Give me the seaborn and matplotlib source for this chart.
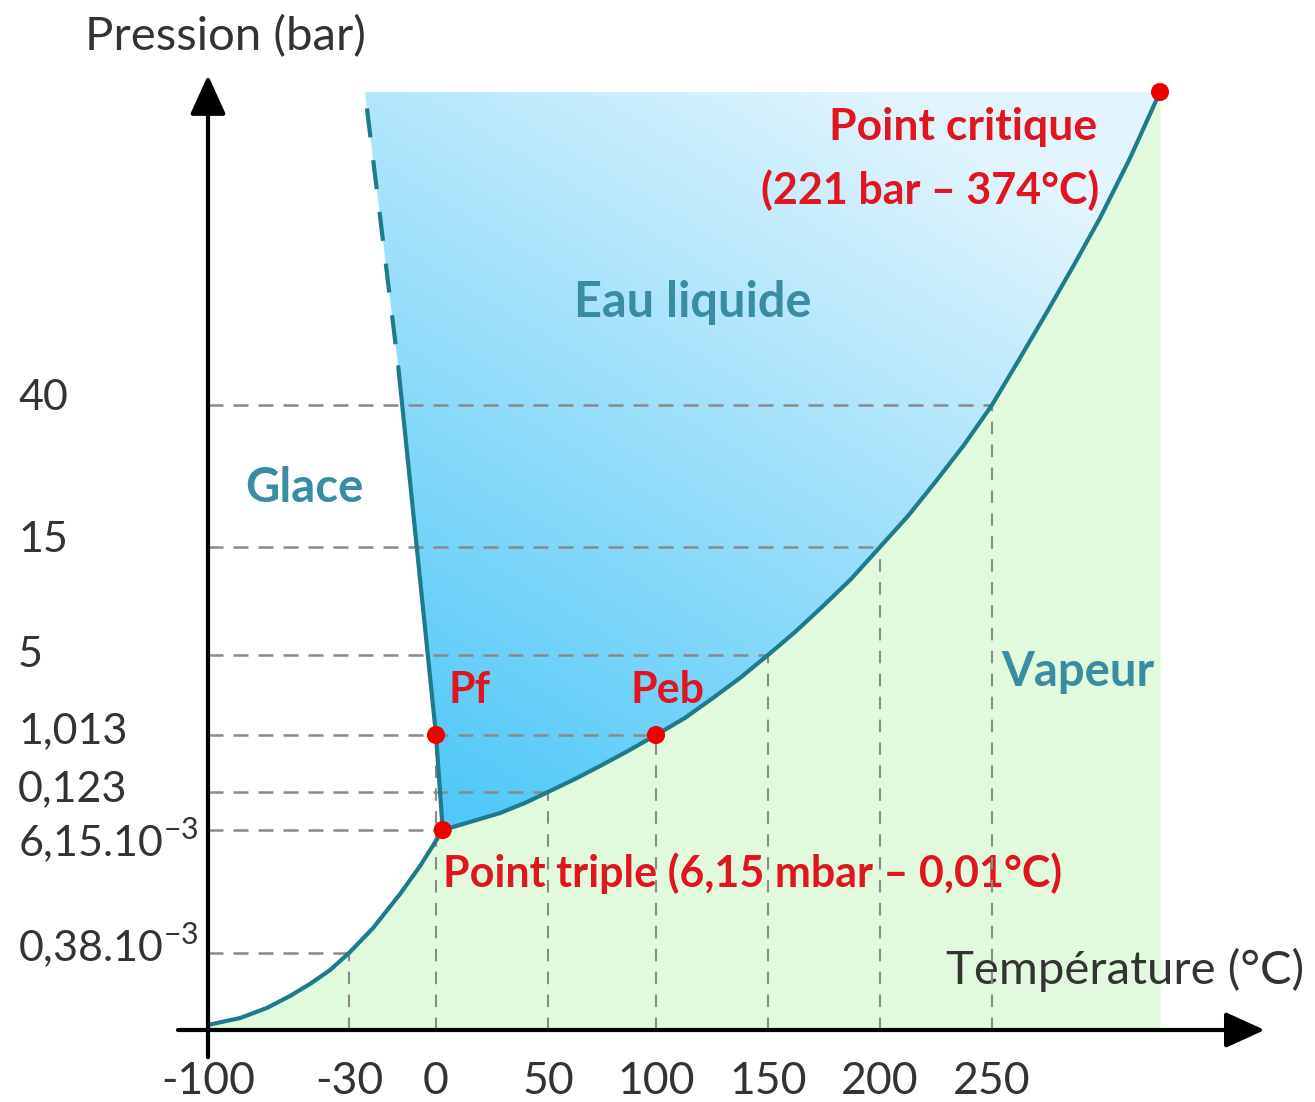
import numpy as np
import matplotlib
matplotlib.use("Agg")
import matplotlib.pyplot as plt
import matplotlib.transforms as mtrans
from matplotlib.patches import Polygon
import seaborn as sns

# ── values (°C, bar) ─────────────────────────────────────────────────────────
temp_ticks = [-100, -30, 0, 50, 100, 150, 200, 250]
temp_labels = ["-100", "-30", "0", "50", "100", "150", "200", "250"]
press_ticks = [0.38e-3, 6.15e-3, 0.123, 1.013, 5, 15, 40]
press_labels = [r"0,38.10$^{\mathregular{-3}}$", r"6,15.10$^{\mathregular{-3}}$",
                "0,123", "1,013", "5", "15", "40"]

crit_T, crit_P = 374, 221
triple_T, triple_P = 3, 6.15e-3      # drawn slightly right of the 0 °C line
pf_T, pf_P = 0, 1.013
peb_T, peb_P = 100, 1.013

# sublimation curve (ice / vapour)
sub_T = [-100, -84.1, -70.7, -59.3, -49.4, -39.4, -30, -21.7, -12.4, -5.5, 3]
sub_P = [0.025e-3, 0.059e-3, 0.109e-3, 0.168e-3, 0.227e-3, 0.296e-3, 0.38e-3,
         1.553e-3, 3.148e-3, 4.461e-3, 6.15e-3]

# vaporisation curve (liquid / vapour)
vap_T = [3, 15.2, 28.6, 39.7, 50, 62.5, 74.1, 87.0, 100, 112.9, 125.4, 137.5, 150,
         162.1, 174.6, 187.1, 200, 212.5, 225.4, 237.5, 250, 270.7, 290.6, 310.5,
         329.7, 351.9, 374]
vap_P = [6.15e-3, 0.0308, 0.0584, 0.0892, 0.123, 0.326, 0.529, 0.763, 1.013, 1.860,
         2.857, 3.854, 5, 7.13, 9.54, 12.04, 15, 20.46, 26.8, 32.96, 40, 67.2, 93.8,
         121.0, 148.1, 182.8, 221]

# fusion curve (ice / liquid)
fus_T = [3, 0, -13]
fus_P = [6.15e-3, 1.013, 62]
fus_dash_T = [-13, -24.5]
fus_dash_P = [62, 221]

# guides: (pressure, temperature where it meets the curve) and the reverse
guide_h = [(0.38e-3, -30), (6.15e-3, 3), (0.123, 50), (1.013, 100), (5, 150), (15, 200), (40, 250)]
guide_v = [(-30, 0.38e-3), (0, 1.013), (50, 0.123), (100, 1.013), (150, 5), (200, 15), (250, 40)]

# ── layout: the diagram is schematic, ticks are not evenly spaced ───────────
W, H = 1315, 1102
x_slots = np.array([0, 141, 228, 340, 448, 560, 672, 784, 952]) / 952
y_slots = np.array([0, 77, 200, 238, 295, 375, 483, 625, 938]) / 938
# vertical nudge of each pressure label (px, up is positive)
y_label_shift = [8, -10, 3, 4, 0, 7, 7]

TEAL_LINE = "#1f7a8c"
TEAL_TEXT = "#3a8ca3"
RED = "#e0151f"
GREY = "#8a8a8a"
INK = "#333333"


def make_map(src, dst):
    src = np.asarray(src, float)
    dst = np.asarray(dst, float)
    s0 = (dst[1] - dst[0]) / (src[1] - src[0])
    s1 = (dst[-1] - dst[-2]) / (src[-1] - src[-2])

    def f(v):
        v = np.asarray(v, float)
        out = np.interp(v, src, dst)
        out = np.where(v < src[0], dst[0] + (v - src[0]) * s0, out)
        out = np.where(v > src[-1], dst[-1] + (v - src[-1]) * s1, out)
        return out
    return f


x_anchor = temp_ticks + [crit_T]
y_anchor = [0] + press_ticks + [crit_P]

sns.set_theme(style="white")
plt.rcParams["font.family"] = ["Lato", "DejaVu Sans"]
plt.rcParams["mathtext.fontset"] = "custom"
plt.rcParams["mathtext.rm"] = "Lato"

fig = plt.figure(figsize=(W / 100, H / 100), dpi=100)
ax = fig.add_axes([208 / W, 1 - 1030 / H, 952 / W, 938 / H])
ax.set_xscale("function", functions=(make_map(x_anchor, x_slots), make_map(x_slots, x_anchor)))
ax.set_yscale("function", functions=(make_map(y_anchor, y_slots), make_map(y_slots, y_anchor)))

# green (vapour) region under the curves
ax.fill_between(sub_T + vap_T[1:], 0, sub_P + vap_P[1:], color="#e1f9dc", lw=0, zorder=1)

# blue gradient for the liquid region
verts = ([(fus_dash_T[1], fus_dash_P[1]), (fus_dash_T[0], fus_dash_P[0]), (pf_T, pf_P)]
         + list(zip(vap_T, vap_P)))
liquid = Polygon(verts, closed=True, transform=ax.transData, facecolor="none", edgecolor="none")
ax.add_patch(liquid)
u, v = np.meshgrid(np.linspace(0, 1, 300), np.linspace(0, 1, 300))
t = np.clip((0.55 * u + 0.9 * v - 0.35) / 0.95, 0, 1)
c0 = np.array([80, 200, 248]) / 255
c1 = np.array([226, 245, 253]) / 255
grad = c0 + (c1 - c0) * t[..., None]
img = ax.imshow(grad, extent=[0, 1, 0, 1], transform=ax.transAxes, origin="lower",
                aspect="auto", zorder=1, interpolation="bilinear")
img.set_clip_path(liquid)

# dashed guide lines
for p, tt in guide_h:
    ax.plot([-100, tt], [p, p], color=GREY, lw=1.8, ls=(0, (6, 4)), zorder=4, clip_on=False)
for tt, p in guide_v:
    ax.plot([tt, tt], [0, p], color=GREY, lw=1.5, ls=(0, (6, 5)), zorder=4, clip_on=False)

# phase boundaries
sns.lineplot(x=sub_T, y=sub_P, ax=ax, color=TEAL_LINE, lw=3, zorder=5, clip_on=False)
sns.lineplot(x=vap_T, y=vap_P, ax=ax, color=TEAL_LINE, lw=3, zorder=5, clip_on=False)
sns.lineplot(x=fus_T, y=fus_P, ax=ax, sort=False, color=TEAL_LINE, lw=3, zorder=5, clip_on=False)
ax.plot(fus_dash_T, fus_dash_P, color=TEAL_LINE, lw=3, ls=(7, (7, 5.5)), zorder=5, clip_on=False)

sns.scatterplot(x=[crit_T, pf_T, peb_T, triple_T], y=[crit_P, pf_P, peb_P, triple_P],
                ax=ax, color="#f00000", s=170, edgecolor="none", zorder=6, clip_on=False)

ax.set_xlim(-100, crit_T)
ax.set_ylim(0, crit_P)

# axes with arrows
arrow = dict(arrowstyle="-|>,head_length=1.1,head_width=0.5", color="black", lw=3,
             mutation_scale=22, shrinkA=0, shrinkB=0)
ax.annotate("", xy=(1.110, 0), xytext=(-0.0315, 0), xycoords="axes fraction",
            arrowprops=arrow, annotation_clip=False, zorder=7)
ax.annotate("", xy=(0, 1.018), xytext=(0, -0.029), xycoords="axes fraction",
            arrowprops=arrow, annotation_clip=False, zorder=7)

ax.set_xticks(temp_ticks, temp_labels)
ax.tick_params(axis="x", direction="inout", length=21, width=2.2, color="black",
               pad=12, labelsize=32, labelcolor=INK)
ax.set_yticks(press_ticks, [""] * len(press_ticks))
ax.tick_params(axis="y", length=0)

# pressure labels, left aligned at the figure edge, nudged like the original
ylab_tr = mtrans.blended_transform_factory(fig.transFigure, ax.transData)
for p, lab, dy in zip(press_ticks, press_labels, y_label_shift):
    tr = ylab_tr + mtrans.ScaledTranslation(0, dy / 100, fig.dpi_scale_trans)
    ax.text(18 / W, p, lab, transform=tr, ha="left", va="center", fontsize=31,
            color=INK, clip_on=False)

for s in ax.spines.values():
    s.set_visible(False)
ax.set_facecolor("none")


def put(px, py, s, **kw):
    ax.text(px / W, 1 - py / H, s, transform=fig.transFigure, ha="center", va="center",
            clip_on=False, zorder=3, **kw)


put(225, 37, "Pression (bar)", fontsize=34, color=INK)
put(1125, 970, "Température (°C)", fontsize=34, color=INK)
put(304, 488, "Glace", fontsize=34, color=TEAL_TEXT, weight="bold")
put(693, 303, "Eau liquide", fontsize=35, color=TEAL_TEXT, weight="bold")
put(1078, 672, "Vapeur", fontsize=34, color=TEAL_TEXT, weight="bold")
put(963, 127, "Point critique", fontsize=32, color=RED, weight="bold")
put(930, 190, "(221 bar – 374°C)", fontsize=31, color=RED, weight="bold")
put(470, 690, "Pf", fontsize=31, color=RED, weight="bold")
put(667, 690, "Peb", fontsize=31, color=RED, weight="bold")
put(753, 873, "Point triple (6,15 mbar – 0,01°C)", fontsize=31, color=RED, weight="bold")

plt.savefig("out.png", dpi=100)
plt.close()
